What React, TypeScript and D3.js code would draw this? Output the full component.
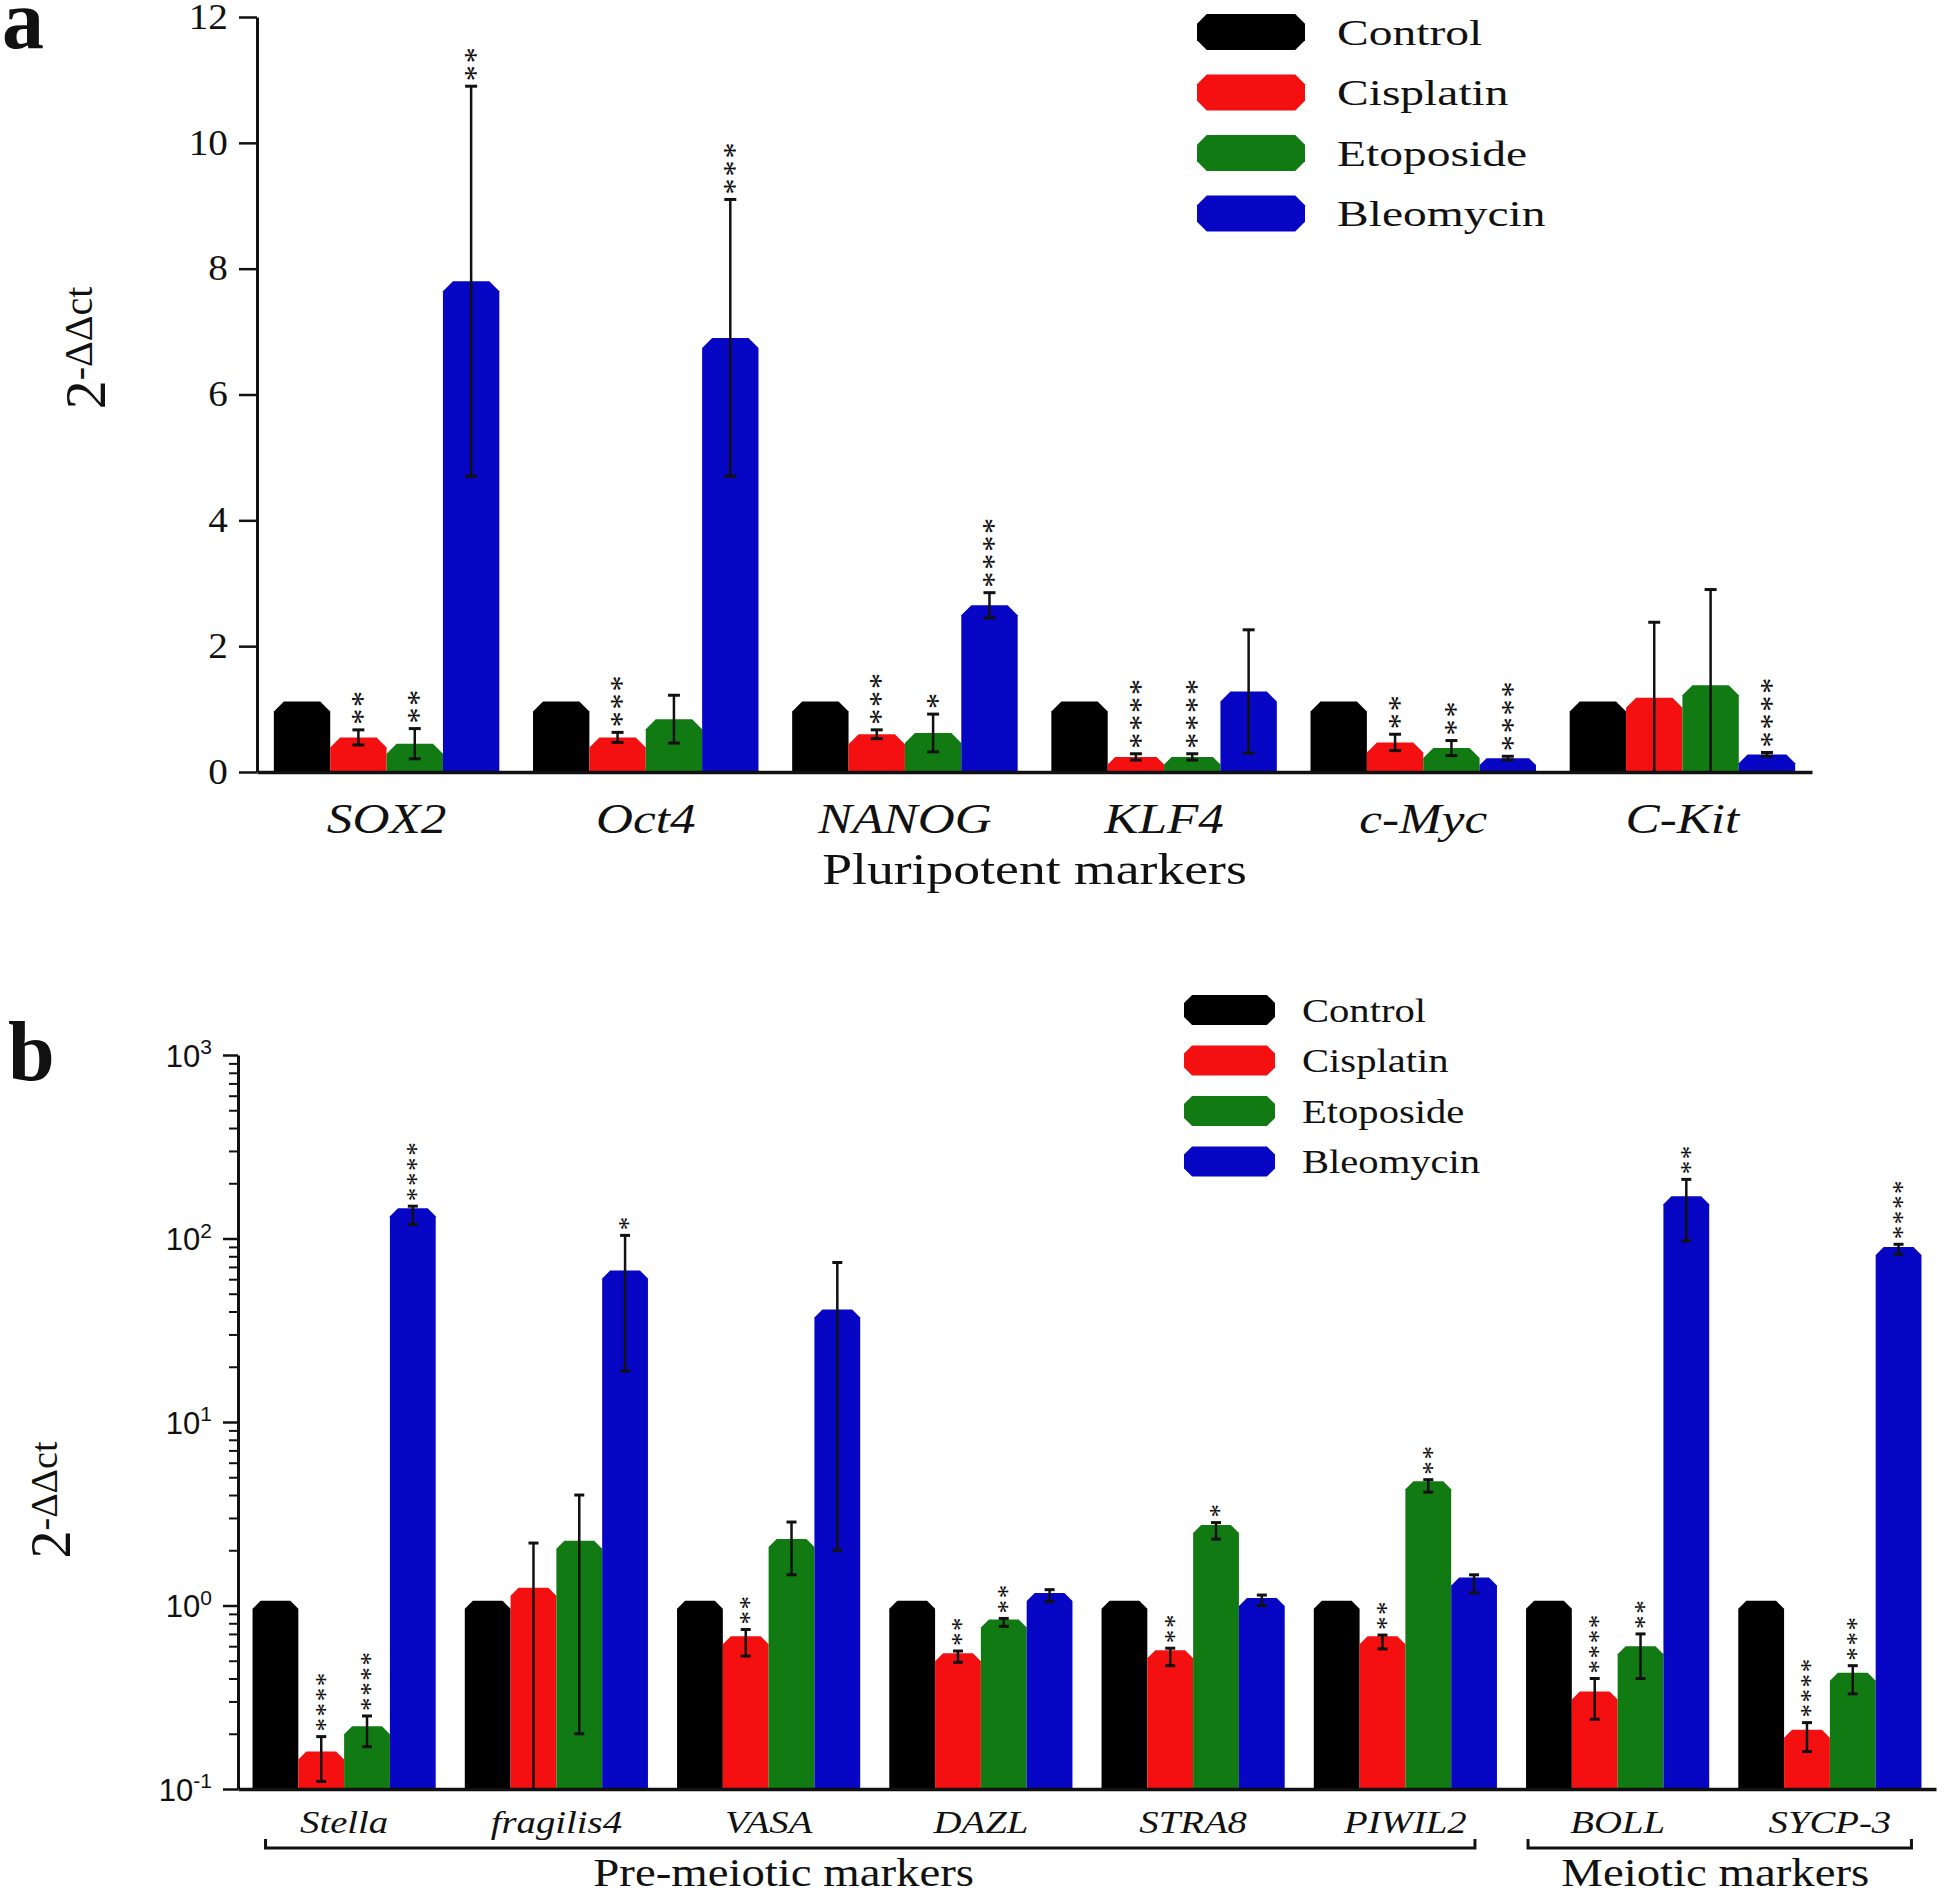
import React, { useEffect, useRef } from "react";
import * as d3 from "d3";

const SERIF = "'Liberation Serif', 'Times New Roman', serif";
const SANS = "'Liberation Sans', Arial, sans-serif";

const series = ["Control", "Cisplatin", "Etoposide", "Bleomycin"];
const colors = ["#000000", "#f41010", "#127a12", "#0606c4"];

// panel a: pluripotent markers (linear axis)
const genesA = ["SOX2", "Oct4", "NANOG", "KLF4", "c-Myc", "C-Kit"];
const controlA = [1.12, 1.12, 1.12, 1.12, 1.12, 1.12];
const cisplatinA = [0.55, 0.55, 0.6, 0.24, 0.47, 1.18];
const etoposideA = [0.45, 0.84, 0.62, 0.24, 0.38, 1.38];
const bleomycinA = [7.8, 6.9, 2.65, 1.28, 0.22, 0.28];
const cisplatinErrA = [0.12, 0.08, 0.07, 0.05, 0.13, 1.2];
const etoposideErrA = [0.24, 0.38, 0.3, 0.05, 0.12, 1.52];
const bleomycinErrA = [3.1, 2.2, 0.2, 0.98, 0.03, 0.03];
const starsA = [
  ["", "**", "**", "**"],
  ["", "***", "", "***"],
  ["", "***", "*", "****"],
  ["", "****", "****", ""],
  ["", "**", "**", "****"],
  ["", "", "", "****"],
];
const ticksA = [0, 2, 4, 6, 8, 10, 12];

// panel b: germ cell markers (log axis)
const genesB = ["Stella", "fragilis4", "VASA", "DAZL", "STRA8", "PIWIL2", "BOLL", "SYCP-3"];
const controlB = [1.06, 1.06, 1.06, 1.06, 1.06, 1.06, 1.06, 1.06];
const cisplatinB = [0.16, 1.25, 0.68, 0.55, 0.57, 0.68, 0.34, 0.21];
const etoposideB = [0.22, 2.25, 2.3, 0.84, 2.75, 4.75, 0.6, 0.43];
const bleomycinB = [146, 67, 41, 1.17, 1.1, 1.42, 170, 90];
const cisplatinUpB = [0.033, 0.94, 0.06, 0.015, 0.015, 0.01, 0.06, 0.02];
const cisplatinDnB = [0.05, 1.2, 0.15, 0.06, 0.1, 0.1, 0.1, 0.05];
const etoposideUpB = [0.03, 1.75, 0.55, 0.01, 0.08, 0.1, 0.1, 0.04];
const etoposideDnB = [0.05, 2.05, 0.83, 0.07, 0.45, 0.6, 0.2, 0.1];
const bleomycinUpB = [4, 37, 33, 0.05, 0.04, 0.05, 40, 3];
const bleomycinDnB = [27, 48, 39, 0.12, 0.1, 0.25, 73, 8];
const starsB = [
  ["", "****", "****", "****"],
  ["", "", "", "*"],
  ["", "**", "", ""],
  ["", "**", "**", ""],
  ["", "**", "*", ""],
  ["", "**", "**", ""],
  ["", "****", "**", "**"],
  ["", "****", "***", "****"],
];
const groupsB = [
  { label: "Pre-meiotic markers", from: "Stella", to: "PIWIL2" },
  { label: "Meiotic markers", from: "BOLL", to: "SYCP-3" },
];

function barPath(x, w, yTop, yBase, c) {
  const cc = Math.max(0, Math.min(c, (yBase - yTop) / 2, w / 2));
  return `M${x},${yBase}V${yTop + cc}L${x + cc},${yTop}H${x + w - cc}L${x + w},${yTop + cc}V${yBase}Z`;
}

function swatchPath(x, y, w, h, c) {
  return `M${x + c},${y}H${x + w - c}L${x + w},${y + c}V${y + h - c}L${x + w - c},${y + h}H${x + c}L${x},${y + h - c}V${y + c}Z`;
}

function stretched(g, x, y, str, size, sx, anchor = "start") {
  return g
    .append("text")
    .attr("transform", `translate(${x},${y}) scale(${sx},1)`)
    .attr("font-family", SERIF)
    .attr("font-size", size)
    .attr("text-anchor", anchor)
    .attr("fill", "#111")
    .text(str);
}

function drawBars(g, genes, x0, x1, y, base, values, up, dn, stars, opt) {
  const w = x1.bandwidth();
  genes.forEach((gene, gi) => {
    series.forEach((s, si) => {
      const v = values[si][gi];
      const bx = x0(gene) + x1(s);
      const cx = bx + w / 2;
      const yTop = y(v);
      g.append("path")
        .attr("d", barPath(bx, w, yTop, base, opt.chamfer))
        .attr("fill", colors[si]);
      let top = yTop;
      const eu = up[si][gi];
      const ed = dn[si][gi];
      if (eu > 0 || ed > 0) {
        const hi = y(v + eu);
        const clipped = v - ed <= opt.floor;
        const lo = clipped ? base : y(v - ed);
        g.append("line")
          .attr("x1", cx).attr("x2", cx)
          .attr("y1", hi).attr("y2", lo)
          .attr("stroke", "#111").attr("stroke-width", 2.5);
        g.append("line")
          .attr("x1", cx - opt.cap).attr("x2", cx + opt.cap)
          .attr("y1", hi).attr("y2", hi)
          .attr("stroke", "#111").attr("stroke-width", 3);
        if (!clipped) {
          g.append("line")
            .attr("x1", cx - opt.cap).attr("x2", cx + opt.cap)
            .attr("y1", lo).attr("y2", lo)
            .attr("stroke", "#111").attr("stroke-width", 3);
        }
        top = Math.min(top, hi);
      }
      const st = stars[gi][si];
      if (st) {
        g.append("text")
          .attr("transform", `translate(${cx + 0.46 * opt.star},${top - 5}) rotate(-90)`)
          .attr("font-family", SERIF)
          .attr("font-size", opt.star)
          .attr("letter-spacing", opt.star * 0.06)
          .attr("fill", "#111")
          .text(st);
      }
    });
  });
}

function drawLegend(g, x, y0, gap, w, h, tx, size, sx) {
  series.forEach((s, i) => {
    const cy = y0 + i * gap;
    g.append("path").attr("d", swatchPath(x, cy - h / 2, w, h, h * 0.27)).attr("fill", colors[i]);
    stretched(g, tx, cy + size * 0.36, s, size, sx);
  });
}

function yLabel(g, x, y, big, small) {
  const t = g
    .append("text")
    .attr("transform", `translate(${x},${y}) rotate(-90)`)
    .attr("font-family", SERIF)
    .attr("text-anchor", "middle")
    .attr("fill", "#111");
  t.append("tspan").attr("font-size", big).text("2");
  t.append("tspan").attr("font-size", small).attr("dy", -13).text("-\u0394\u0394ct");
}

function drawPanelA(g) {
  const x0 = d3.scaleBand().domain(genesA).range([257, 1812]).paddingInner(0.13).paddingOuter(0.065);
  const x1 = d3.scaleBand().domain(series).range([0, x0.bandwidth()]);
  const y = d3.scaleLinear().domain([0, 12]).range([772, 17]);
  const zeros = genesA.map(() => 0);
  const errs = [zeros, cisplatinErrA, etoposideErrA, bleomycinErrA];

  drawBars(g, genesA, x0, x1, y, y(0),
    [controlA, cisplatinA, etoposideA, bleomycinA], errs, errs, starsA,
    { chamfer: 10, cap: 6, star: 32, floor: 0 });

  const gy = g.append("g").attr("transform", "translate(257,0)")
    .call(d3.axisLeft(y).tickValues(ticksA).tickSize(18).tickPadding(8).tickSizeOuter(0));
  gy.select(".domain").attr("stroke", "#111").attr("stroke-width", 3);
  gy.selectAll(".tick line").attr("stroke", "#111").attr("stroke-width", 2.5);
  gy.selectAll(".tick text")
    .attr("font-family", SERIF).attr("font-size", 35).attr("fill", "#111")
    .attr("transform", "scale(1.12,1)");

  const gx = g.append("g").attr("transform", "translate(0,772)")
    .call(d3.axisBottom(x0).tickSize(0).tickSizeOuter(0));
  gx.select(".domain").attr("stroke", "#111").attr("stroke-width", 3.5);
  gx.selectAll(".tick text")
    .attr("font-family", SERIF).attr("font-style", "italic").attr("font-size", 42)
    .attr("fill", "#111").attr("y", 61).attr("dy", 0)
    .attr("transform", "scale(1.22,1)");

  stretched(g, (257 + 1812) / 2, 884, "Pluripotent markers", 44, 1.22, "middle");
  yLabel(g, 105, 348, 58, 40);
  g.append("text").attr("x", 2).attr("y", 48).attr("font-family", SERIF)
    .attr("font-weight", "bold").attr("font-size", 84).attr("fill", "#111").text("a");
  drawLegend(g, 1197, 32, 60.5, 108, 36, 1337, 36, 1.32);
}

function drawPanelB(g) {
  const x0 = d3.scaleBand().domain(genesB).range([238, 1936]).paddingInner(0.137).paddingOuter(0.0685);
  const x1 = d3.scaleBand().domain(series).range([0, x0.bandwidth()]);
  const y = d3.scaleLog().domain([0.1, 1000]).range([1789, 1055]);
  const zeros = genesB.map(() => 0);

  drawBars(g, genesB, x0, x1, y, y(0.1),
    [controlB, cisplatinB, etoposideB, bleomycinB],
    [zeros, cisplatinUpB, etoposideUpB, bleomycinUpB],
    [zeros, cisplatinDnB, etoposideDnB, bleomycinDnB], starsB,
    { chamfer: 8, cap: 5, star: 27, floor: 0.1 });

  const tv = [];
  for (let k = -1; k <= 2; k++) for (let m = 1; m <= 9; m++) tv.push(m * Math.pow(10, k));
  tv.push(1000);
  const gy = g.append("g").attr("transform", "translate(238,0)")
    .call(d3.axisLeft(y).tickValues(tv).tickSize(15).tickSizeOuter(0).tickFormat(() => ""));
  gy.select(".domain").attr("stroke", "#111").attr("stroke-width", 3);
  gy.selectAll(".tick").each(function (d) {
    const lg = Math.log10(d);
    const e = Math.round(lg);
    const tick = d3.select(this);
    tick.select("line").attr("stroke", "#111").attr("stroke-width", 2.5);
    if (Math.abs(lg - e) > 1e-6) {
      tick.select("line").attr("x2", -9).attr("stroke-width", 2);
      return;
    }
    const t = tick.select("text").attr("x", -26).attr("dy", "0.36em")
      .attr("font-family", SANS).attr("font-size", 31).attr("fill", "#111");
    t.text(null);
    t.append("tspan").text("10");
    t.append("tspan").attr("font-size", 21).attr("dy", "-0.6em").text(String(e));
  });

  const gx = g.append("g").attr("transform", "translate(0,1789)")
    .call(d3.axisBottom(x0).tickSize(0).tickSizeOuter(0));
  gx.select(".domain").attr("stroke", "#111").attr("stroke-width", 3.5);
  gx.selectAll(".tick text")
    .attr("font-family", SERIF).attr("font-style", "italic").attr("font-size", 31)
    .attr("fill", "#111").attr("y", 44).attr("dy", 0)
    .attr("transform", "scale(1.25,1)");

  // group brackets under the gene labels
  const step = x0.step();
  groupsB.forEach((gr, i) => {
    const a = x0(gr.from) + (i === 0 ? 13 : 2);
    const b = x0(gr.to) + x0.bandwidth() - (i === 0 ? 22 : 10);
    g.append("path")
      .attr("d", `M${a},1839V1848H${b}V1839`)
      .attr("fill", "none").attr("stroke", "#111").attr("stroke-width", 3);
    const mid = i === 0
      ? x0("VASA") + x0.bandwidth() / 2 + 15
      : (x0(gr.from) + x0(gr.to) + x0.bandwidth()) / 2 - step * 0.04;
    stretched(g, mid, 1886, gr.label, 39, 1.2, "middle");
  });

  yLabel(g, 70, 1500, 56, 38);
  g.append("text").attr("x", 8).attr("y", 1080).attr("font-family", SERIF)
    .attr("font-weight", "bold").attr("font-size", 84).attr("fill", "#111").text("b");
  drawLegend(g, 1184, 1010, 50.5, 91, 30, 1302, 33, 1.23);
}

export default function App() {
  const ref = useRef(null);
  useEffect(() => {
    const svg = d3.select(ref.current);
    svg.selectAll("*").remove();
    drawPanelA(svg.append("g"));
    drawPanelB(svg.append("g"));
  }, []);
  return (
    <svg
      ref={ref}
      width={1946}
      height={1894}
      style={{ position: "absolute", left: 0, top: 0, background: "#fff" }}
    />
  );
}
